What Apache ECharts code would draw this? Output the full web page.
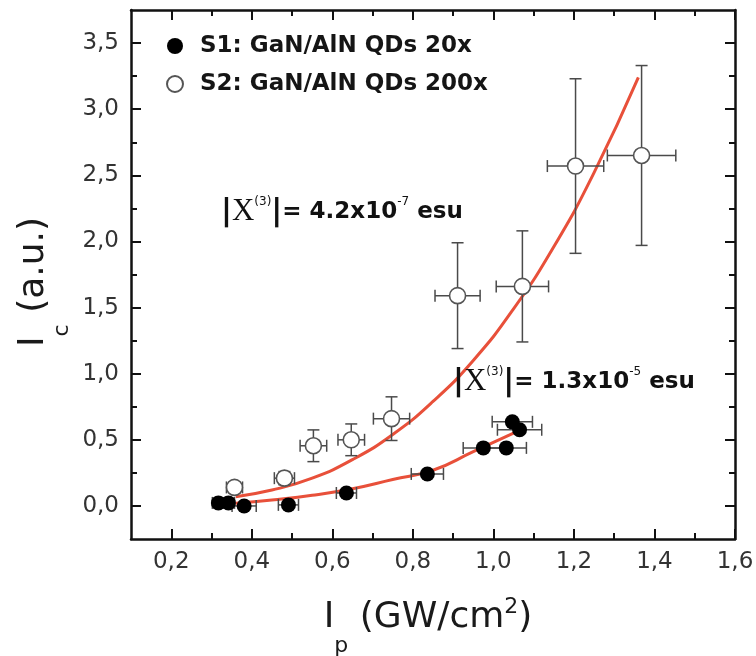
<!DOCTYPE html>
<html>
<head>
<meta charset="utf-8">
<script src="https://cdn.jsdelivr.net/npm/echarts@6/dist/echarts.min.js"></script>
<style>
  html, body { margin: 0; padding: 0; background: #fff; }
  #chart { width: 756px; height: 656px; }
</style>
</head>
<body>
<div id="chart"></div>
<script>
// S1: GaN/AlN QDs 20x — pump intensity (GW/cm²), signal (a.u.), x error
const s1X    = [0.317, 0.342, 0.381, 0.491, 0.635, 0.836, 0.975, 1.032, 1.047, 1.065];
const s1Y    = [0.023, 0.023, 0.000, 0.008, 0.098, 0.242, 0.439, 0.439, 0.636, 0.576];
const s1XErr = [0.015, 0.015, 0.030, 0.025, 0.025, 0.040, 0.050, 0.050, 0.050, 0.055];

// S2: GaN/AlN QDs 200x — with x and y errors
const s2X    = [0.357, 0.481, 0.553, 0.647, 0.747, 0.911, 1.072, 1.204, 1.368];
const s2Y    = [0.140, 0.210, 0.455, 0.500, 0.660, 1.590, 1.660, 2.570, 2.650];
const s2XErr = [0.020, 0.025, 0.033, 0.033, 0.045, 0.056, 0.065, 0.070, 0.085];
const s2YErr = [0.040, 0.050, 0.120, 0.120, 0.165, 0.400, 0.420, 0.660, 0.680];

// Cubic fit curves
const fit2X = [0.36, 0.45, 0.55, 0.65, 0.75, 0.85, 0.95, 1.05, 1.15, 1.25, 1.36];
const fit2Y = [0.07, 0.12, 0.21, 0.35, 0.54, 0.79, 1.10, 1.49, 1.96, 2.52, 3.24];
const fit1X = [0.36, 0.45, 0.55, 0.65, 0.75, 0.85, 0.95, 1.05];
const fit1Y = [0.02, 0.045, 0.08, 0.13, 0.20, 0.27, 0.41, 0.55];

// Tick positions
const xMajor = [0.2, 0.4, 0.6, 0.8, 1.0, 1.2, 1.4, 1.6];
const xMinor = [0.3, 0.5, 0.7, 0.9, 1.1, 1.3, 1.5];
const yMajor = [0, 0.5, 1.0, 1.5, 2.0, 2.5, 3.0, 3.5];
const yMinor = [0.25, 0.75, 1.25, 1.75, 2.25, 2.75, 3.25];

const names = ['S1: GaN/AlN QDs 20x', 'S2: GaN/AlN QDs 200x'];

const AXIS = '#111';
const FIT = '#e8503a';
const ERR = '#4a4a4a';
const FONT = 'DejaVu Sans';

const zip = (...cols) => cols[0].map((_, i) => cols.map(c => c[i]));
const comma = v => v.toFixed(1).replace('.', ',');

function axis(dim, pos, vals, len, withLine, withLabel) {
  const isX = dim === 'x';
  return {
    type: 'value',
    position: pos,
    min: isX ? 0.1 : -0.25,
    max: isX ? 1.6 : 3.75,
    axisLine: { show: withLine, onZero: false, lineStyle: { color: AXIS, width: 2.5 } },
    axisTick: { show: true, inside: true, length: len, customValues: vals,
                lineStyle: { color: AXIS, width: 2 } },
    axisLabel: withLabel ? {
      show: true, customValues: vals, margin: 12,
      fontFamily: FONT, fontSize: 23, color: '#333',
      formatter: comma
    } : { show: false },
    splitLine: { show: false }
  };
}

function errorBars(api) {
  const x = api.value(0), y = api.value(1), ex = api.value(2), ey = api.value(3);
  const c = 6;
  const children = [];
  const st = { stroke: ERR, lineWidth: 1.5 };
  if (ex > 0) {
    const a = api.coord([x - ex, y]), b = api.coord([x + ex, y]);
    children.push({ type: 'line', shape: { x1: a[0], y1: a[1], x2: b[0], y2: b[1] }, style: st });
    children.push({ type: 'line', shape: { x1: a[0], y1: a[1] - c, x2: a[0], y2: a[1] + c }, style: st });
    children.push({ type: 'line', shape: { x1: b[0], y1: b[1] - c, x2: b[0], y2: b[1] + c }, style: st });
  }
  if (ey > 0) {
    const a = api.coord([x, y - ey]), b = api.coord([x, y + ey]);
    children.push({ type: 'line', shape: { x1: a[0], y1: a[1], x2: b[0], y2: b[1] }, style: st });
    children.push({ type: 'line', shape: { x1: a[0] - c, y1: a[1], x2: a[0] + c, y2: a[1] }, style: st });
    children.push({ type: 'line', shape: { x1: b[0] - c, y1: b[1], x2: b[0] + c, y2: b[1] }, style: st });
  }
  return { type: 'group', children };
}

const chi = (x, y, value, exp) => ({
  type: 'text', x, y, z: 50,
  style: {
    text: '{b||}{c|X}{s|(3)}{b||}{m|= ' + value + '}{s|' + exp + '}{m| esu}',
    textAlign: 'left', textVerticalAlign: 'middle',
    rich: {
      b: { fontFamily: FONT, fontSize: 30, fontWeight: 'bold', lineHeight: 36, fill: '#111' },
      c: { fontFamily: 'Liberation Serif', fontSize: 31, lineHeight: 36, fill: '#111' },
      s: { fontFamily: FONT, fontSize: 12, lineHeight: 14, verticalAlign: 'top', padding: [2, 0, 0, 0], fill: '#111' },
      m: { fontFamily: FONT, fontSize: 23, fontWeight: 'bold', lineHeight: 36, fill: '#111' }
    }
  }
});

const titleRich = {
  m: { fontFamily: FONT, fontSize: 36, lineHeight: 44, fill: '#1a1a1a' },
  s: { fontFamily: FONT, fontSize: 22, lineHeight: 22, verticalAlign: 'top', padding: [39, 0, 0, 0], fill: '#1a1a1a' },
  u: { fontFamily: FONT, fontSize: 22, lineHeight: 22, verticalAlign: 'top', padding: [0, 0, 0, 0], fill: '#1a1a1a' }
};

const chart = echarts.init(document.getElementById('chart'), null, { renderer: 'canvas' });
chart.setOption({
  backgroundColor: '#fff',
  animation: false,
  grid: { left: 131, right: 21, top: 10, bottom: 117, outerBoundsMode: 'none' },
  xAxis: [
    axis('x', 'bottom', xMajor, 10, true, true),
    axis('x', 'bottom', xMinor, 6, false, false),
    axis('x', 'top', xMajor, 10, true, false),
    axis('x', 'top', xMinor, 6, false, false)
  ],
  yAxis: [
    axis('y', 'left', yMajor, 10, true, true),
    axis('y', 'left', yMinor, 6, false, false),
    axis('y', 'right', yMajor, 10, true, false),
    axis('y', 'right', yMinor, 6, false, false)
  ],
  legend: {
    data: names,
    orient: 'vertical',
    left: 161, top: 29,
    itemWidth: 16, itemHeight: 16, itemGap: 14,
    textStyle: { fontFamily: FONT, fontSize: 23, fontWeight: 'bold', color: '#151515',
                 lineHeight: 24, padding: [0, 0, 0, 12] },
    selectedMode: false
  },
  series: [
    { type: 'line', data: zip(fit2X, fit2Y), smooth: true, showSymbol: false, z: 2,
      lineStyle: { color: FIT, width: 3 }, silent: true },
    { type: 'line', data: zip(fit1X, fit1Y), smooth: true, showSymbol: false, z: 2,
      lineStyle: { color: FIT, width: 3 }, silent: true },
    { type: 'custom', data: zip(s1X, s1Y, s1XErr, s1X.map(() => 0)), renderItem: (p, api) => errorBars(api),
      encode: { x: 0, y: 1 }, z: 3, silent: true },
    { type: 'custom', data: zip(s2X, s2Y, s2XErr, s2YErr), renderItem: (p, api) => errorBars(api),
      encode: { x: 0, y: 1 }, z: 3, silent: true },
    { name: names[0], type: 'scatter', data: zip(s1X, s1Y), symbol: 'circle', symbolSize: 15, z: 5,
      itemStyle: { color: '#000', opacity: 1 } },
    { name: names[1], type: 'scatter', data: zip(s2X, s2Y), symbol: 'circle', symbolSize: 16, z: 5,
      itemStyle: { color: '#fff', borderColor: '#555', borderWidth: 1.6, opacity: 1 } }
  ],
  graphic: [
    chi(221, 212, '4.2x10', '-7'),
    chi(453, 382, '1.3x10', '-5'),
    {
      type: 'text', x: 428, y: 618, z: 50,
      style: { text: '{m|I}{s|p}{m| (GW/cm}{u|2}{m|)}', textAlign: 'center', textVerticalAlign: 'middle', rich: titleRich }
    },
    {
      type: 'text', x: 34, y: 282, rotation: Math.PI / 2, z: 50,
      style: { text: '{m|I}{s|c}{m| (a.u.)}', textAlign: 'center', textVerticalAlign: 'middle', rich: titleRich }
    }
  ]
});
</script>
</body>
</html>
